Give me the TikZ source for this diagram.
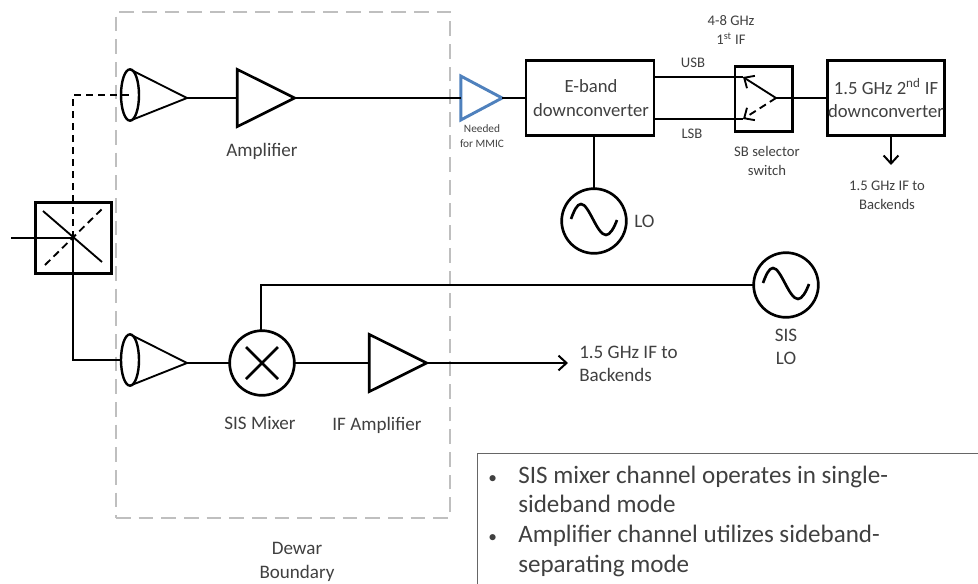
\documentclass[tikz,border=0pt]{standalone}
\usepackage{fontspec}
\setmainfont{Carlito}
\usetikzlibrary{arrows.meta, calc, shapes.geometric}
\definecolor{labelgray}{HTML}{404040}
\definecolor{dewargray}{HTML}{BFBFBF}
\definecolor{mmicblue}{HTML}{4F81BD}
\tikzset{
  lab/.style={align=center, text=labelgray, font=\fontsize{14.3}{17.5}\selectfont, inner sep=0pt},
  boxlab/.style={align=center, text=labelgray, font=\fontsize{14}{17.5}\selectfont},
  smalllab/.style={align=center, text=labelgray, font=\fontsize{11}{14.5}\selectfont, inner sep=0pt},
  tinylab/.style={align=center, text=labelgray, font=\fontsize{8.5}{11.5}\selectfont, inner sep=0pt},
  wire/.style={line width=1.5pt, black},
  thinwire/.style={line width=1.4pt, black},
  dashwire/.style={dash pattern=on 5.5pt off 3.5pt},
  blockbox/.style={draw, line width=2.2pt, minimum width=#1, inner sep=0pt, outer sep=0pt},
  ampl/.style={draw, line width=2pt, isosceles triangle, isosceles triangle apex angle=53, minimum height=43pt, inner sep=0pt, outer sep=0pt},
  hornmouth/.style={draw, line width=1.8pt, ellipse, minimum width=13.5pt, minimum height=38.5pt, inner sep=0pt, outer sep=0pt},
  roundel/.style={draw, line width=2pt, circle, minimum size=48.5pt, inner sep=0pt, outer sep=0pt},
  sinewave/.style={path picture={\draw[line width=2pt, shift={(path picture bounding box.center)}] (-23,-2) .. controls (-20,-10) and (-17,-17) .. (-13,-17) .. controls (-5,-17) and (3,14) .. (12,14) .. controls (16,14) and (20,7) .. (23,-1);}},
  crossmark/.style={path picture={\draw[line width=2pt, shift={(path picture bounding box.center)}] (-16,-16) -- (16,16) (-16,16) -- (16,-16);}}
}
\begin{document}
\begin{tikzpicture}[x=0.75pt, y=-0.75pt, >={Straight Barb[length=6pt,width=11pt]}]
  \useasboundingbox (0,0) rectangle (978,583);
  \node[draw=dewargray, line width=1.5pt, dash pattern=on 11pt off 6pt, minimum width=250.5pt, minimum height=379.5pt, inner sep=0pt] (dewar) at (283,265) {};

  % splitter
  \node[draw, line width=2.2pt, minimum width=57pt, minimum height=53pt, inner sep=0pt] (split) at (73.5,238) {};
  \coordinate (rfin) at (11,238);
  \coordinate (splitc) at (73,238);
  \draw[thinwire] (43,211) -- (102,262);
  \draw[thinwire, dashwire] (45,265) -- (103,208);
  \draw[wire] (rfin) -- (splitc);

  % upper channel
  \node[hornmouth] (hornA) at (130,95) {};
  \coordinate (hornAtip) at (187,98);
  \draw[thinwire] (hornA.north) -- (hornAtip) -- (hornA.south);
  \coordinate (bendA) at (73,95);
  \draw[wire, dashwire] (splitc) -- (bendA) -- (hornA.center);
  \node[ampl] (ampA) at (255,98) {};
  \node[lab] (ampAlab) at (262,151) {Amplifier};
  \node[draw=mmicblue, line width=2.2pt, isosceles triangle, isosceles triangle apex angle=56, minimum height=31pt, inner sep=0pt, outer sep=0pt] (mmic) at (474,98) {};
  \node[tinylab] (mmiclab) at (482,136) {Needed\\for MMIC};
  \node[blockbox=96pt, minimum height=56pt, boxlab, draw=black] (eband) at (590,98) {\hspace{1.5pt}E-band\\\hspace{1.5pt}downconverter};
  \node[roundel, sinewave] (loA) at (594,221) {};
  \node[lab, anchor=west] (loAlab) at (634,221) {LO};
  \node[draw, line width=2pt, minimum width=43pt, minimum height=49pt, inner sep=0pt] (sbsw) at (763.5,99) {};
  \node[blockbox=88pt, minimum height=56pt, boxlab, draw=black] (ifconv) at (886,98) {1.5 GHz 2\textsuperscript{nd} IF\\downconverter};
  \coordinate (pivot) at (776,98);
  \coordinate (usbtip) at (743,77);
  \coordinate (lsbtip) at (743,119);
  \draw[thinwire] (eband.east |- usbtip) -- (usbtip);
  \draw[thinwire] (eband.east |- lsbtip) -- (lsbtip);
  \draw[thinwire, ->] (pivot) -- (usbtip);
  \draw[thinwire, dashwire, ->] (pivot) -- (lsbtip);
  \draw[wire] (hornAtip) -- (ampA.west);
  \draw[wire] (ampA.apex) -- (mmic.west);
  \draw[wire] (mmic.apex) -- (eband);
  \draw[wire] (loA |- eband.south) -- (loA);
  \draw[thinwire] (pivot) -- (ifconv.west);
  \coordinate (ifout) at (891,165);
  \draw[wire, ->] (ifout |- ifconv.south) -- (ifout);
  \node[smalllab] (usblab) at (693,63) {USB};
  \node[smalllab] (lsblab) at (692,134) {LSB};
  \node[smalllab] (iflab) at (731,30) {4-8 GHz\\1\textsuperscript{st} IF};
  \node[smalllab] (sblab) at (767,161) {SB selector\\switch};
  \node[smalllab] (backA) at (887,195) {1.5 GHz IF to\\Backends};

  % lower channel
  \node[hornmouth] (hornB) at (130,360) {};
  \coordinate (hornBtip) at (187,363);
  \draw[thinwire] (hornB.north) -- (hornBtip) -- (hornB.south);
  \coordinate (bendB) at (73,360);
  \draw[wire] (splitc) -- (bendB) -- (hornB.west);
  \node[roundel, crossmark] (mixer) at (262,363) {};
  \node[lab] (mixerlab) at (260,423) {SIS Mixer};
  \node[ampl] (ampB) at (387,363) {};
  \node[lab] (ampBlab) at (377,425) {IF Amplifier};
  \node[roundel, sinewave] (loB) at (786,285) {};
  \node[lab] (loBlab) at (786,347) {SIS\\LO};
  \coordinate (bendC) at (261,285);
  \coordinate (ifend) at (568,363);
  \draw[wire] (hornBtip) -- (mixer);
  \draw[wire] (mixer) -- (ampB.west);
  \draw[wire, ->] (ampB.apex) -- (ifend);
  \draw[wire] (bendC |- mixer.north) -- (bendC) -- (loB);
  \node[lab, align=left, anchor=west] (backB) at (579,364) {1.5 GHz IF to\\Backends};

  \node[lab] (dewarlab) at (297,562) {Dewar\\Boundary};

  % note box
  \node[draw=labelgray!80, line width=0.9pt, anchor=north west, minimum width=400pt, minimum height=140pt, inner sep=0pt] (notebox) at (477,453) {};
  \node[anchor=north west, inner sep=0pt, text=labelgray, font=\fontsize{18.8}{22.3}\selectfont] (notes) at (488,462) {%
    \begin{tabular}{@{}p{22.5pt}@{}l@{}}
      {\fontsize{13}{13}\selectfont\textbullet} & SIS mixer channel operates in single-\\
       & sideband mode\\
      {\fontsize{13}{13}\selectfont\textbullet} & Amplifier channel utilizes sideband-\\
       & separating mode
    \end{tabular}};
\end{tikzpicture}
\end{document}
